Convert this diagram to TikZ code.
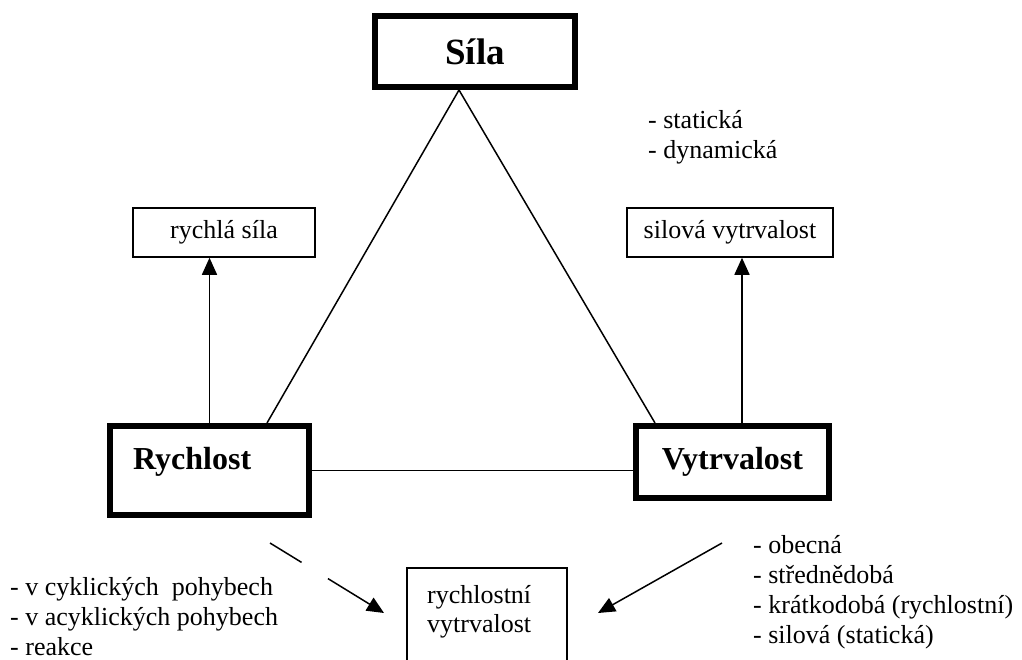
\documentclass[tikz,border=0pt]{standalone}
\usepackage{fontspec}
\setmainfont{Liberation Serif}
\usetikzlibrary{arrows.meta}
\begin{document}
\begin{tikzpicture}[x=1pt,y=-1pt,
  thickbox/.style={draw, line width=6pt, inner sep=0pt},
  thinbox/.style={draw, line width=1.5pt, inner sep=0pt},
  conn/.style={line width=1.5pt},
  arr/.style={conn, -{Triangle[length=17pt,width=15pt]}},
  txt/.style={font=\fontsize{26}{30}\selectfont, inner sep=0pt},
  bigtxt/.style={font=\fontsize{32}{36}\selectfont\bfseries, inner sep=0pt},
  lst/.style={txt, anchor=base west}
]
\clip (0,0) rectangle (1022,659);
\fill[white] (0,0) rectangle (1022,659);

% main boxes
\node[thickbox, minimum width=200pt, minimum height=71pt,
      font=\fontsize{37}{40}\selectfont\bfseries] (sila) at (475,51.5) {Síla};
\node[thickbox, minimum width=199pt, minimum height=89pt] (rych) at (209.5,470.5) {};
\node[bigtxt, anchor=base west] (rycht) at (133,469) {Rychlost};
\node[thickbox, bigtxt, minimum width=193pt, minimum height=72pt] (vyt) at (732.5,462) {Vytrvalost};

% small boxes
\node[thinbox, txt, minimum width=182pt, minimum height=49pt] (rs) at (224,232.5) {rychlá síla};
\node[thinbox, txt, minimum width=206pt, minimum height=49pt] (sv) at (730,232.5) {silová vytrvalost};
\node[thinbox, minimum width=160pt, minimum height=120pt] (rv) at (487,628) {};
\node[lst] (rv1) at (427,603) {rychlostní};
\node[lst] (rv2) at (427,632) {vytrvalost};

% triangle
\draw[conn] ([xshift=-16pt]sila.south) -- ([xshift=57.5pt]rych.north);
\draw[conn] ([xshift=-16pt]sila.south) -- ([xshift=-77.5pt]vyt.north);
\draw[conn] (rych.east) -- (rych.east -| vyt.west);

% vertical arrows
\draw[arr] (rych.north) -- (rych.north |- rs.south);
\draw[arr] ([xshift=9.5pt]vyt.north) -- ([xshift=9.5pt]vyt.north |- sv.south);

% diagonal arrows
\coordinate (la) at (270,543);
\coordinate (lb) at (384,613);
\coordinate (ra) at (722,543);
\coordinate (rb) at (598,613);
\draw[arr, dash pattern=on 37pt off 31pt on 300pt] (la) -- (lb);
\draw[arr] (ra) -- (rb);

% lists
\node[lst] (s1) at (648,128) {- statická};
\node[lst] (s2) at (648,158) {- dynamická};

\node[lst] (l1) at (10,595) {- v cyklických\ \ pohybech};
\node[lst] (l2) at (10,625) {- v acyklických pohybech};
\node[lst] (l3) at (10,655) {- reakce};

\node[lst] (r1) at (753,553) {- obecná};
\node[lst] (r2) at (753,583) {- střednědobá};
\node[lst] (r3) at (753,613) {- krátkodobá (rychlostní)};
\node[lst] (r4) at (753,643) {- silová (statická)};
\end{tikzpicture}
\end{document}
